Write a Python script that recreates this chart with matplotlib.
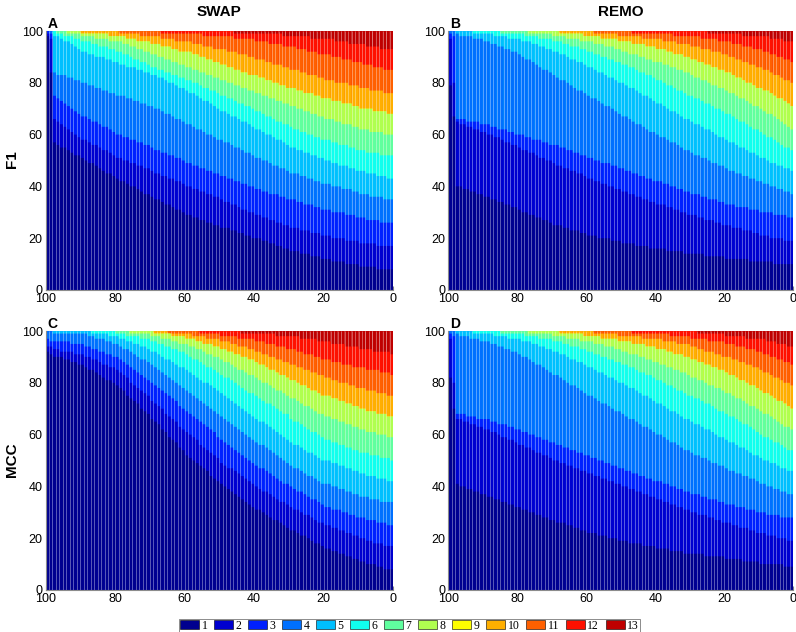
import numpy as np
import matplotlib
matplotlib.use('Agg')
import matplotlib.pyplot as plt
from matplotlib.patches import Patch

plt.rcParams['font.family'] = ['Liberation Sans', 'DejaVu Sans']

classes = [str(k) for k in range(1, 14)]
# jet(64), rows 1, 5, 10, ..., 60
colors = ['#00008F', '#0000CF', '#0020FF', '#0070FF', '#00BFFF', '#10FFEF',
          '#60FF9F', '#AFFF50', '#FFFF00', '#FFAF00', '#FF6000', '#FF1000', '#BF0000']
x_ticks = [100, 80, 60, 40, 20, 0]
y_ticks = [0, 20, 40, 60, 80, 100]
bar_x = np.arange(99.5, 0, -1)

# cumulative % at the top of classes 1-8, 10, 11, 12 (class 9 is empty,
# class 13 goes up to 100). one value per bar, left (x=99.5) to right (x=0.5)
swap_f1 = [
    [98, 84, 57, 56, 55, 55, 54, 53, 52, 52,
     51, 50, 49, 49, 48, 47, 46, 45, 45, 44,
     43, 42, 42, 41, 40, 40, 39, 38, 37, 37,
     36, 35, 35, 34, 33, 33, 32, 31, 31, 30,
     29, 29, 28, 28, 27, 27, 26, 26, 25, 25,
     24, 24, 24, 23, 23, 22, 22, 21, 21, 20,
     20, 20, 19, 19, 18, 18, 17, 17, 16, 16,
     15, 15, 15, 14, 14, 14, 13, 13, 13, 12,
     12, 12, 11, 11, 11, 11, 10, 10, 10, 10,
     9, 9, 9, 9, 9, 8, 8, 8, 8, 8],
    [99, 97, 66, 65, 64, 63, 62, 61, 60, 59,
     58, 58, 57, 56, 56, 55, 54, 54, 53, 52,
     51, 51, 50, 50, 49, 49, 48, 48, 47, 47,
     46, 45, 45, 44, 44, 43, 43, 42, 42, 41,
     40, 40, 39, 39, 38, 38, 37, 37, 36, 36,
     35, 34, 34, 33, 33, 32, 31, 31, 30, 30,
     29, 29, 28, 28, 27, 27, 26, 26, 25, 25,
     24, 24, 24, 23, 23, 23, 22, 22, 22, 21,
     21, 21, 20, 20, 20, 20, 19, 19, 19, 19,
     18, 18, 18, 18, 18, 17, 17, 17, 17, 17],
    [100, 99, 75, 74, 73, 72, 71, 70, 69, 68,
     67, 67, 66, 65, 65, 64, 63, 63, 62, 61,
     60, 60, 59, 59, 58, 58, 57, 57, 56, 56,
     55, 54, 54, 53, 53, 52, 52, 51, 51, 50,
     49, 49, 48, 48, 47, 47, 46, 46, 45, 45,
     44, 44, 43, 43, 42, 42, 41, 41, 40, 40,
     39, 39, 38, 38, 37, 37, 37, 36, 36, 35,
     35, 35, 34, 34, 33, 33, 33, 32, 32, 31,
     31, 31, 30, 30, 30, 30, 29, 29, 29, 28,
     28, 28, 27, 27, 27, 27, 26, 26, 26, 26],
    [100, 100, 84, 83, 83, 83, 82, 82, 81, 81,
     80, 80, 79, 79, 78, 78, 77, 77, 76, 76,
     75, 75, 75, 74, 74, 73, 73, 72, 72, 71,
     71, 70, 70, 69, 68, 68, 67, 66, 66, 65,
     64, 64, 63, 62, 62, 61, 60, 60, 59, 58,
     58, 57, 57, 56, 55, 55, 54, 53, 53, 52,
     51, 51, 50, 50, 49, 48, 48, 47, 47, 46,
     45, 45, 45, 44, 44, 43, 43, 42, 42, 41,
     41, 41, 40, 40, 40, 39, 39, 39, 38, 38,
     37, 37, 37, 36, 36, 36, 36, 35, 35, 35],
    [100, 100, 98, 98, 97, 96, 96, 95, 94, 93,
     92, 92, 91, 91, 90, 90, 90, 89, 89, 88,
     88, 87, 87, 86, 86, 86, 85, 85, 84, 84,
     83, 83, 82, 82, 81, 80, 80, 79, 78, 78,
     77, 76, 76, 75, 74, 73, 73, 72, 71, 70,
     69, 69, 68, 67, 67, 66, 65, 65, 64, 63,
     62, 62, 61, 60, 60, 59, 58, 58, 57, 56,
     55, 55, 54, 54, 53, 53, 52, 52, 51, 51,
     50, 50, 49, 49, 48, 48, 48, 47, 47, 46,
     46, 46, 45, 45, 45, 44, 44, 44, 43, 43],
    [100, 100, 100, 99, 99, 98, 98, 98, 97, 97,
     96, 96, 96, 95, 95, 94, 94, 94, 93, 93,
     92, 92, 91, 91, 90, 89, 89, 88, 88, 87,
     86, 86, 85, 85, 84, 84, 83, 83, 82, 82,
     81, 81, 80, 80, 79, 78, 78, 77, 77, 76,
     75, 75, 74, 74, 73, 72, 72, 71, 71, 70,
     69, 69, 68, 67, 67, 66, 65, 65, 64, 64,
     63, 62, 62, 61, 61, 60, 60, 59, 59, 58,
     58, 58, 57, 57, 56, 56, 56, 55, 55, 54,
     54, 54, 53, 53, 53, 53, 52, 52, 52, 52],
    [100, 100, 100, 100, 100, 100, 99, 99, 99, 99,
     98, 98, 98, 98, 97, 97, 97, 97, 96, 96,
     96, 96, 95, 95, 94, 94, 93, 93, 92, 92,
     91, 91, 90, 90, 89, 89, 88, 88, 87, 87,
     86, 86, 85, 85, 84, 84, 83, 83, 82, 82,
     81, 81, 80, 80, 79, 79, 78, 78, 77, 77,
     76, 76, 75, 75, 74, 74, 73, 73, 72, 72,
     71, 71, 70, 70, 69, 69, 68, 68, 67, 67,
     66, 66, 66, 65, 65, 64, 64, 64, 63, 63,
     62, 62, 62, 61, 61, 61, 61, 60, 60, 60],
    [100, 100, 100, 100, 100, 100, 100, 100, 100, 100,
     99, 99, 99, 99, 99, 99, 99, 99, 98, 98,
     98, 98, 98, 97, 97, 97, 96, 96, 96, 96,
     95, 95, 95, 94, 94, 94, 93, 93, 92, 92,
     92, 92, 91, 91, 90, 90, 89, 89, 88, 88,
     87, 87, 86, 86, 85, 85, 84, 84, 83, 83,
     83, 82, 82, 81, 81, 80, 80, 79, 79, 78,
     78, 78, 77, 77, 76, 76, 76, 75, 75, 74,
     74, 74, 73, 73, 73, 72, 72, 72, 71, 71,
     70, 70, 70, 70, 69, 69, 69, 69, 68, 68],
    [100] * 20 +
    [100, 99, 99, 99, 99, 99, 99, 98, 98, 98,
     98, 98, 98, 97, 97, 97, 97, 96, 96, 96,
     96, 96, 95, 95, 95, 94, 94, 94, 93, 93,
     93, 93, 92, 92, 92, 91, 91, 91, 90, 90,
     89, 89, 89, 88, 88, 87, 87, 87, 86, 86,
     85, 85, 85, 84, 84, 83, 83, 83, 82, 82,
     81, 81, 81, 80, 80, 80, 80, 79, 79, 79,
     78, 78, 78, 77, 77, 77, 77, 76, 76, 76],
    [100] * 33 +
    [99, 99, 99, 99, 99, 99, 99,
     99, 99, 99, 99, 99, 98, 98, 98, 98, 98,
     98, 98, 98, 98, 97, 97, 97, 97, 97, 97,
     96, 96, 96, 96, 95, 95, 95, 95, 94, 94,
     94, 94, 93, 93, 93, 92, 92, 92, 91, 91,
     91, 91, 90, 90, 90, 89, 89, 89, 88, 88,
     88, 87, 87, 87, 86, 86, 86, 85, 85, 85],
    [100] * 54 +
    [99, 99, 99, 99, 99, 99,
     99, 99, 99, 99, 99, 99, 99, 99, 98, 98,
     98, 98, 98, 98, 98, 98, 97, 97, 97, 97,
     97, 97, 97, 96, 96, 96, 96, 95, 95, 95,
     95, 95, 94, 94, 94, 94, 93, 93, 93, 93],
]

remo_f1 = [
    [79, 67, 40, 40, 39, 39, 38, 38, 37, 37,
     36, 36, 35, 35, 34, 34, 33, 33, 32, 32,
     31, 30, 30, 29, 29, 28, 28, 27, 27, 26,
     25, 25, 25, 24, 24, 23, 23, 23, 22, 22,
     21, 21, 21, 20, 20, 20, 20, 19, 19, 19,
     18, 18, 18, 18, 17, 17, 17, 17, 16, 16,
     16, 16, 16, 15, 15, 15, 15, 15, 14, 14,
     14, 14, 14, 14, 13, 13, 13, 13, 13, 13,
     12, 12, 12, 12, 12, 12, 12, 11, 11, 11,
     11, 11, 11, 11, 10, 10, 10, 10, 10, 10],
    [97, 80, 65, 64, 64, 63, 63, 62, 62, 61,
     61, 60, 60, 59, 59, 58, 57, 57, 56, 56,
     55, 54, 54, 53, 53, 52, 51, 51, 50, 50,
     49, 48, 48, 47, 47, 46, 46, 45, 45, 44,
     43, 43, 42, 42, 41, 41, 40, 40, 39, 39,
     38, 38, 37, 37, 36, 36, 35, 35, 34, 34,
     33, 33, 33, 32, 32, 31, 31, 30, 30, 29,
     29, 29, 28, 28, 27, 27, 27, 26, 26, 25,
     25, 25, 24, 24, 24, 23, 23, 23, 22, 22,
     21, 21, 21, 20, 20, 20, 20, 19, 19, 19],
    [99, 98, 66, 66, 66, 65, 65, 65, 65, 64,
     64, 64, 63, 63, 62, 62, 62, 61, 61, 60,
     60, 60, 59, 59, 58, 58, 58, 57, 57, 56,
     56, 56, 55, 55, 54, 54, 53, 53, 52, 52,
     51, 51, 50, 50, 49, 49, 49, 48, 48, 47,
     47, 46, 46, 45, 45, 44, 44, 43, 43, 42,
     42, 42, 41, 41, 40, 40, 39, 39, 38, 38,
     37, 37, 37, 36, 36, 35, 35, 35, 34, 34,
     33, 33, 33, 32, 32, 32, 32, 31, 31, 31,
     30, 30, 30, 30, 29, 29, 29, 29, 28, 28],
    [100, 100, 99, 98, 98, 98, 98, 97, 97, 97,
     96, 96, 95, 95, 94, 94, 93, 93, 92, 92,
     91, 90, 89, 89, 88, 87, 86, 85, 85, 84,
     83, 82, 81, 81, 80, 79, 78, 77, 77, 76,
     75, 74, 74, 73, 72, 71, 71, 70, 69, 68,
     67, 67, 66, 65, 64, 64, 63, 62, 61, 61,
     60, 59, 59, 58, 57, 57, 56, 55, 54, 54,
     53, 52, 52, 51, 51, 50, 49, 49, 48, 48,
     47, 46, 46, 45, 45, 44, 44, 43, 43, 42,
     42, 41, 41, 40, 40, 39, 39, 38, 38, 37],
    [100, 100, 100, 100, 100, 100, 100, 99, 99, 99,
     99, 99, 99, 98, 98, 98, 98, 97, 97, 97,
     97, 96, 96, 96, 95, 95, 94, 94, 93, 93,
     92, 92, 91, 91, 90, 89, 89, 88, 88, 87,
     86, 86, 85, 84, 84, 83, 82, 82, 81, 80,
     80, 79, 78, 78, 77, 76, 75, 75, 74, 73,
     72, 72, 71, 70, 69, 69, 68, 67, 66, 66,
     65, 64, 64, 63, 62, 62, 61, 60, 59, 59,
     58, 57, 57, 56, 55, 55, 54, 53, 53, 52,
     51, 51, 50, 49, 49, 48, 48, 47, 47, 46],
    [100] * 15 +
    [99, 99, 99, 99, 99,
     99, 99, 98, 98, 98, 98, 97, 97, 97, 97,
     96, 96, 96, 95, 95, 94, 94, 94, 93, 93,
     92, 92, 91, 91, 90, 90, 89, 89, 88, 88,
     87, 87, 86, 86, 85, 84, 84, 83, 83, 82,
     81, 81, 80, 79, 79, 78, 77, 77, 76, 75,
     75, 74, 74, 73, 72, 72, 71, 70, 70, 69,
     68, 68, 67, 66, 65, 65, 64, 63, 62, 62,
     61, 60, 59, 59, 58, 57, 56, 55, 55, 54],
    [100] * 23 +
    [99, 99, 99, 99, 99, 99, 99,
     98, 98, 98, 98, 97, 97, 97, 97, 96, 96,
     96, 96, 95, 95, 95, 94, 94, 94, 93, 93,
     92, 92, 91, 91, 91, 90, 90, 89, 89, 88,
     88, 88, 87, 87, 86, 86, 85, 85, 84, 84,
     83, 82, 82, 81, 81, 80, 79, 79, 78, 78,
     77, 76, 76, 75, 74, 74, 73, 72, 71, 71,
     70, 69, 68, 68, 67, 66, 65, 64, 63, 62],
    [100] * 32 +
    [99, 99, 99, 99, 99, 99, 99, 98,
     98, 98, 98, 98, 97, 97, 97, 97, 97, 96,
     96, 96, 96, 95, 95, 95, 95, 94, 94, 94,
     93, 93, 93, 92, 92, 91, 91, 91, 90, 90,
     89, 89, 88, 88, 87, 87, 86, 86, 85, 85,
     84, 84, 83, 82, 82, 81, 80, 80, 79, 78,
     78, 77, 77, 76, 75, 74, 74, 73, 72, 71],
    [100] * 42 +
    [99, 99, 99, 99, 99, 99, 99, 98,
     98, 98, 98, 98, 98, 98, 97, 97, 97, 97,
     97, 97, 96, 96, 96, 96, 95, 95, 95, 95,
     94, 94, 94, 93, 93, 93, 92, 92, 92, 91,
     91, 90, 90, 89, 89, 88, 88, 87, 87, 86,
     86, 85, 85, 84, 83, 83, 82, 81, 81, 80],
    [100] * 53 +
    [99, 99, 99, 99, 99, 99, 99,
     99, 99, 99, 99, 99, 98, 98, 98, 98, 98,
     98, 98, 98, 97, 97, 97, 97, 97, 96, 96,
     96, 96, 95, 95, 95, 94, 94, 94, 93, 93,
     93, 92, 92, 91, 91, 90, 90, 89, 89, 88],
    [100] * 75 +
    [99, 99, 99, 99, 99,
     99, 99, 99, 99, 99, 98, 98, 98, 98, 98,
     98, 98, 98, 97, 97, 97, 97, 96, 96, 96],
]

swap_mcc = [
    [92, 91, 90, 90, 90, 89, 89, 88, 88, 87,
     87, 86, 85, 85, 84, 83, 82, 81, 81, 80,
     79, 78, 77, 75, 74, 73, 72, 70, 69, 68,
     66, 65, 64, 62, 61, 59, 58, 57, 55, 54,
     52, 51, 50, 49, 48, 47, 46, 44, 43, 42,
     41, 40, 39, 38, 37, 36, 35, 34, 33, 32,
     31, 31, 30, 29, 28, 27, 27, 26, 25, 24,
     23, 23, 22, 21, 21, 20, 19, 18, 18, 17,
     16, 16, 15, 15, 14, 14, 13, 13, 12, 12,
     11, 11, 10, 10, 10, 9, 9, 8, 8, 8],
    [94, 94, 93, 93, 92, 92, 92, 92, 91, 91,
     91, 90, 90, 89, 89, 88, 87, 87, 86, 86,
     85, 84, 83, 82, 80, 79, 78, 77, 76, 75,
     73, 72, 71, 70, 68, 67, 66, 65, 63, 62,
     61, 60, 59, 58, 56, 55, 54, 53, 52, 51,
     49, 48, 47, 47, 46, 45, 44, 43, 42, 41,
     40, 39, 38, 38, 37, 36, 35, 34, 34, 33,
     32, 31, 31, 30, 29, 29, 28, 27, 26, 26,
     25, 25, 24, 24, 23, 23, 22, 22, 21, 21,
     20, 20, 19, 19, 18, 18, 18, 17, 17, 17],
    [97, 96, 96, 96, 96, 96, 96, 95, 95, 95,
     95, 94, 94, 93, 93, 92, 92, 91, 91, 90,
     90, 89, 88, 87, 86, 85, 84, 83, 82, 81,
     80, 79, 78, 77, 76, 75, 74, 73, 71, 70,
     69, 68, 67, 66, 65, 64, 63, 62, 61, 59,
     58, 57, 56, 55, 54, 53, 52, 51, 50, 49,
     48, 47, 47, 46, 45, 44, 43, 42, 41, 41,
     40, 39, 38, 38, 37, 36, 35, 35, 34, 33,
     32, 32, 31, 31, 31, 30, 30, 29, 29, 28,
     28, 28, 27, 27, 27, 26, 26, 26, 25, 25],
    [100, 100, 99, 99, 99, 99, 99, 99, 99, 99,
     99, 99, 98, 98, 97, 97, 97, 96, 96, 95,
     95, 94, 93, 93, 92, 91, 90, 89, 89, 88,
     87, 86, 85, 84, 83, 82, 81, 80, 79, 78,
     77, 76, 75, 74, 73, 72, 71, 70, 69, 68,
     67, 66, 65, 64, 63, 62, 61, 60, 59, 58,
     57, 56, 56, 55, 54, 53, 52, 51, 50, 49,
     48, 47, 47, 46, 45, 44, 44, 43, 42, 41,
     41, 41, 40, 40, 39, 39, 38, 38, 37, 37,
     36, 36, 36, 35, 35, 35, 34, 34, 34, 34],
    [100] * 13 +
    [99, 99, 99, 99, 99, 98, 98,
     98, 97, 97, 96, 96, 95, 95, 94, 94, 93,
     92, 92, 91, 90, 89, 89, 88, 87, 86, 86,
     85, 84, 83, 82, 81, 80, 80, 79, 78, 77,
     76, 75, 74, 73, 72, 71, 70, 69, 68, 67,
     66, 65, 65, 64, 63, 62, 61, 60, 59, 58,
     57, 56, 56, 55, 54, 53, 53, 52, 51, 50,
     50, 50, 49, 49, 48, 48, 47, 47, 46, 46,
     45, 45, 44, 44, 44, 43, 43, 43, 42, 42],
    [100] * 20 +
    [99, 99, 99, 98, 98, 98, 98, 97, 97, 97,
     96, 96, 95, 95, 94, 94, 93, 93, 92, 92,
     91, 90, 89, 89, 88, 87, 86, 86, 85, 84,
     83, 82, 82, 81, 80, 79, 78, 77, 76, 76,
     75, 74, 73, 72, 72, 71, 70, 69, 68, 68,
     66, 65, 65, 64, 63, 62, 61, 61, 60, 59,
     58, 58, 57, 57, 56, 56, 55, 55, 54, 54,
     53, 53, 53, 52, 52, 52, 51, 51, 51, 50],
    [100] * 24 +
    [99, 99, 99, 99, 99, 99,
     98, 98, 98, 97, 97, 97, 96, 96, 95, 95,
     95, 94, 94, 93, 93, 92, 91, 91, 90, 90,
     89, 88, 88, 87, 86, 85, 85, 84, 83, 83,
     82, 81, 80, 80, 79, 78, 77, 77, 76, 75,
     74, 74, 73, 72, 71, 71, 70, 69, 68, 68,
     67, 67, 66, 66, 65, 65, 64, 64, 63, 63,
     62, 62, 61, 61, 61, 60, 60, 60, 59, 59],
    [100] * 31 +
    [99, 99, 99, 99, 99, 98, 98, 98, 98,
     97, 97, 97, 96, 96, 95, 95, 95, 94, 94,
     93, 93, 92, 92, 91, 91, 90, 90, 89, 89,
     88, 87, 87, 86, 85, 85, 84, 83, 83, 82,
     81, 81, 80, 79, 79, 78, 77, 77, 76, 75,
     75, 75, 74, 74, 73, 73, 72, 72, 71, 71,
     70, 70, 69, 69, 69, 68, 68, 68, 67, 67],
    [100] * 35 +
    [99, 99, 99, 99, 99,
     99, 99, 98, 98, 98, 98, 97, 97, 97, 97,
     96, 96, 96, 95, 95, 94, 94, 94, 93, 93,
     92, 92, 91, 91, 90, 90, 89, 89, 88, 88,
     87, 87, 86, 86, 85, 85, 84, 84, 83, 83,
     82, 82, 81, 81, 80, 80, 80, 79, 79, 78,
     78, 78, 77, 77, 77, 76, 76, 76, 75, 75],
    [100] * 44 +
    [99, 99, 99, 99, 99, 99,
     98, 98, 98, 98, 98, 97, 97, 97, 97, 97,
     96, 96, 96, 95, 95, 95, 94, 94, 94, 93,
     93, 93, 92, 92, 91, 91, 91, 90, 90, 89,
     89, 89, 88, 88, 88, 87, 87, 87, 86, 86,
     86, 86, 85, 85, 85, 85, 84, 84, 84, 83],
    [100] * 56 +
    [99, 99, 99, 99,
     99, 99, 99, 99, 99, 99, 98, 98, 98, 98,
     98, 98, 98, 97, 97, 97, 97, 97, 96, 96,
     96, 96, 95, 95, 95, 95, 94, 94, 94, 94,
     93, 93, 93, 93, 92, 92, 92, 92, 92, 91],
]

remo_mcc = [
    [82, 70, 41, 40, 40, 39, 39, 38, 38, 37,
     37, 36, 36, 35, 35, 34, 34, 33, 33, 32,
     32, 31, 31, 30, 30, 29, 29, 28, 28, 27,
     27, 26, 26, 26, 25, 25, 24, 24, 23, 23,
     22, 22, 22, 21, 21, 21, 20, 20, 20, 19,
     19, 19, 18, 18, 18, 18, 17, 17, 17, 17,
     16, 16, 16, 16, 15, 15, 15, 15, 14, 14,
     14, 14, 14, 14, 13, 13, 13, 13, 13, 13,
     12, 12, 12, 12, 12, 11, 11, 11, 11, 11,
     10, 10, 10, 10, 10, 10, 10, 9, 9, 9],
    [97, 80, 66, 66, 65, 65, 64, 64, 63, 63,
     62, 62, 61, 61, 60, 59, 59, 58, 58, 57,
     56, 56, 55, 55, 54, 53, 53, 52, 52, 51,
     50, 50, 49, 49, 48, 48, 47, 47, 46, 46,
     45, 45, 44, 44, 43, 43, 42, 42, 41, 41,
     40, 40, 39, 39, 38, 38, 37, 37, 36, 36,
     35, 35, 34, 34, 33, 33, 32, 32, 31, 31,
     30, 30, 29, 29, 29, 28, 28, 27, 27, 26,
     26, 26, 25, 25, 24, 24, 24, 23, 23, 22,
     22, 22, 21, 21, 21, 20, 20, 20, 19, 19],
    [99, 98, 68, 68, 68, 67, 67, 67, 66, 66,
     66, 66, 65, 65, 64, 64, 64, 63, 63, 62,
     62, 61, 61, 60, 60, 59, 59, 58, 58, 57,
     57, 56, 56, 55, 55, 54, 54, 53, 53, 52,
     52, 51, 51, 50, 50, 49, 49, 48, 48, 47,
     47, 46, 46, 45, 45, 44, 44, 43, 43, 42,
     42, 42, 41, 41, 40, 40, 39, 39, 38, 38,
     37, 37, 37, 36, 36, 35, 35, 35, 34, 34,
     33, 33, 33, 32, 32, 32, 31, 31, 31, 30,
     30, 30, 29, 29, 29, 29, 28, 28, 28, 28],
    [100, 100, 99, 98, 98, 98, 97, 97, 97, 96,
     96, 96, 95, 95, 94, 94, 93, 93, 92, 92,
     91, 90, 90, 89, 88, 87, 87, 86, 85, 84,
     83, 83, 82, 81, 80, 79, 79, 78, 77, 76,
     75, 75, 74, 73, 72, 72, 71, 70, 69, 69,
     68, 67, 66, 66, 65, 64, 63, 63, 62, 61,
     60, 60, 59, 58, 57, 57, 56, 55, 54, 54,
     53, 52, 52, 51, 51, 50, 49, 49, 48, 48,
     47, 46, 46, 45, 45, 44, 44, 43, 43, 42,
     41, 41, 40, 40, 39, 39, 38, 38, 37, 37],
    [100, 100, 100, 100, 100, 100, 100, 99, 99, 99,
     99, 99, 99, 98, 98, 98, 98, 97, 97, 97,
     97, 96, 96, 96, 95, 95, 94, 94, 93, 93,
     92, 92, 91, 91, 90, 89, 89, 88, 88, 87,
     86, 86, 85, 84, 84, 83, 82, 82, 81, 80,
     80, 79, 78, 78, 77, 76, 75, 75, 74, 73,
     72, 72, 71, 70, 69, 69, 68, 67, 66, 66,
     65, 64, 64, 63, 62, 62, 61, 60, 59, 59,
     58, 57, 57, 56, 55, 55, 54, 53, 52, 52,
     51, 50, 50, 49, 49, 48, 47, 47, 46, 46],
    [100] * 15 +
    [99, 99, 99, 99, 99,
     99, 99, 98, 98, 98, 98, 97, 97, 97, 97,
     96, 96, 96, 95, 95, 94, 94, 94, 93, 93,
     92, 92, 91, 91, 90, 90, 89, 89, 88, 88,
     87, 87, 86, 86, 85, 84, 84, 83, 83, 82,
     81, 81, 80, 79, 79, 78, 77, 77, 76, 75,
     75, 74, 74, 73, 72, 72, 71, 70, 69, 69,
     68, 67, 67, 66, 65, 64, 64, 63, 62, 61,
     60, 59, 59, 58, 57, 57, 56, 55, 54, 54],
    [100] * 23 +
    [99, 99, 99, 99, 99, 99, 99,
     98, 98, 98, 98, 97, 97, 97, 97, 96, 96,
     96, 96, 95, 95, 95, 94, 94, 94, 93, 93,
     92, 92, 91, 91, 91, 90, 90, 89, 89, 88,
     88, 87, 87, 86, 86, 85, 85, 84, 84, 83,
     82, 82, 81, 81, 80, 79, 79, 78, 78, 77,
     76, 76, 75, 74, 74, 73, 72, 71, 71, 70,
     69, 68, 68, 67, 66, 65, 64, 63, 63, 62],
    [100] * 32 +
    [99, 99, 99, 99, 99, 99, 99, 98,
     98, 98, 98, 98, 97, 97, 97, 97, 97, 96,
     96, 96, 96, 95, 95, 95, 95, 94, 94, 94,
     93, 93, 93, 92, 92, 91, 91, 91, 90, 90,
     89, 89, 88, 88, 87, 87, 86, 86, 85, 85,
     84, 83, 83, 82, 81, 81, 80, 79, 79, 78,
     77, 76, 76, 75, 74, 73, 73, 72, 71, 70],
    [100] * 42 +
    [99, 99, 99, 99, 99, 99, 99, 98,
     98, 98, 98, 98, 98, 98, 97, 97, 97, 97,
     97, 97, 96, 96, 96, 96, 95, 95, 95, 95,
     94, 94, 93, 93, 92, 92, 92, 91, 91, 90,
     90, 90, 89, 89, 88, 88, 87, 87, 86, 86,
     85, 84, 84, 83, 82, 82, 81, 80, 80, 79],
    [100] * 53 +
    [99, 99, 99, 99, 99, 99, 99,
     99, 99, 99, 99, 98, 98, 98, 98, 98, 98,
     97, 97, 97, 97, 97, 96, 96, 96, 96, 96,
     95, 95, 95, 94, 94, 94, 93, 93, 93, 92,
     92, 91, 91, 90, 90, 89, 89, 88, 88, 87],
    [100] * 72 +
    [99, 99, 99, 99, 99, 99, 99, 99,
     98, 98, 98, 98, 98, 98, 97, 97, 97, 97,
     97, 97, 96, 96, 96, 95, 95, 95, 94, 94],
]

panels = {'swap_f1': swap_f1, 'remo_f1': remo_f1,
          'swap_mcc': swap_mcc, 'remo_mcc': remo_mcc}
bad = [(n, k, len(r)) for n, p in panels.items() for k, r in enumerate(p) if len(r) != 100]
if bad:
    raise SystemExit('wrong lengths: %s' % bad)


def stack(ax, tops, letter):
    tops = np.array(tops, dtype=float)
    tops = np.insert(tops, 8, tops[7], axis=0)  # class 9: zero height
    tops = np.vstack([tops, np.full(len(bar_x), 100.0)])
    # paint from the top class down, each bar from 0 to its cumulative top
    for k in range(12, -1, -1):
        ax.bar(bar_x, tops[k], width=1.04, color=colors[k],
               linewidth=0, snap=False)
    # light seams between neighbouring bars
    ax.vlines(bar_x[:-1] - 0.5, 0, 100, colors='white', linewidth=0.55,
              alpha=0.45)
    ax.set_xlim(100, 0)
    ax.set_ylim(0, 100)
    ax.set_xticks(x_ticks)
    ax.set_yticks(y_ticks)
    ax.tick_params(labelsize=9, length=3, direction='in', color='0.5', pad=2)
    ax.set_axisbelow(True)
    for side in ['top', 'right']:
        ax.spines[side].set_visible(False)
    for side in ['left', 'bottom']:
        ax.spines[side].set_color('0.55')
        ax.spines[side].set_linewidth(0.8)
    ax.text(0.005, 1.0097, letter, transform=ax.transAxes, fontsize=10,
            fontweight='bold', va='baseline', ha='left')


fig = plt.figure(figsize=(7.96, 6.32), dpi=100)


def px_axes(l, t, r, b):
    return fig.add_axes([l / 796, 1 - b / 632, (r - l) / 796, (b - t) / 632])


stack(px_axes(45.5, 31, 393.3, 290), swap_f1, 'A')
stack(px_axes(448.3, 31, 793.3, 290), remo_f1, 'B')
stack(px_axes(45.5, 331, 393.3, 590), swap_mcc, 'C')
stack(px_axes(448.3, 331, 793.3, 590), remo_mcc, 'D')

fig.text(219.4 / 796, 1 - 12 / 632, 'SWAP', ha='center', va='center',
         fontsize=11, fontweight='bold')
fig.text(620.8 / 796, 1 - 12 / 632, 'REMO', ha='center', va='center',
         fontsize=11, fontweight='bold')
fig.text(12 / 796, 1 - 159 / 632, 'F1', ha='center', va='center',
         rotation=90, fontsize=11, fontweight='bold')
fig.text(12 / 796, 1 - 460 / 632, 'MCC', ha='center', va='center',
         rotation=90, fontsize=11, fontweight='bold')

handles = [Patch(facecolor=c, edgecolor='black', linewidth=0.4, label=l)
           for c, l in zip(colors, classes)]
leg = fig.legend(handles=handles, loc='upper center', ncol=13,
                 bbox_to_anchor=(409.5 / 796, 1 - 618.5 / 632),
                 prop={'family': 'Liberation Serif', 'size': 8.5},
                 frameon=True, fancybox=False, edgecolor='0.35',
                 handlelength=1.6, handleheight=0.75, handletextpad=0.2,
                 columnspacing=0.58, borderpad=0.1, borderaxespad=0)
leg.get_frame().set_linewidth(0.6)

fig.savefig('out.png', dpi=100)
